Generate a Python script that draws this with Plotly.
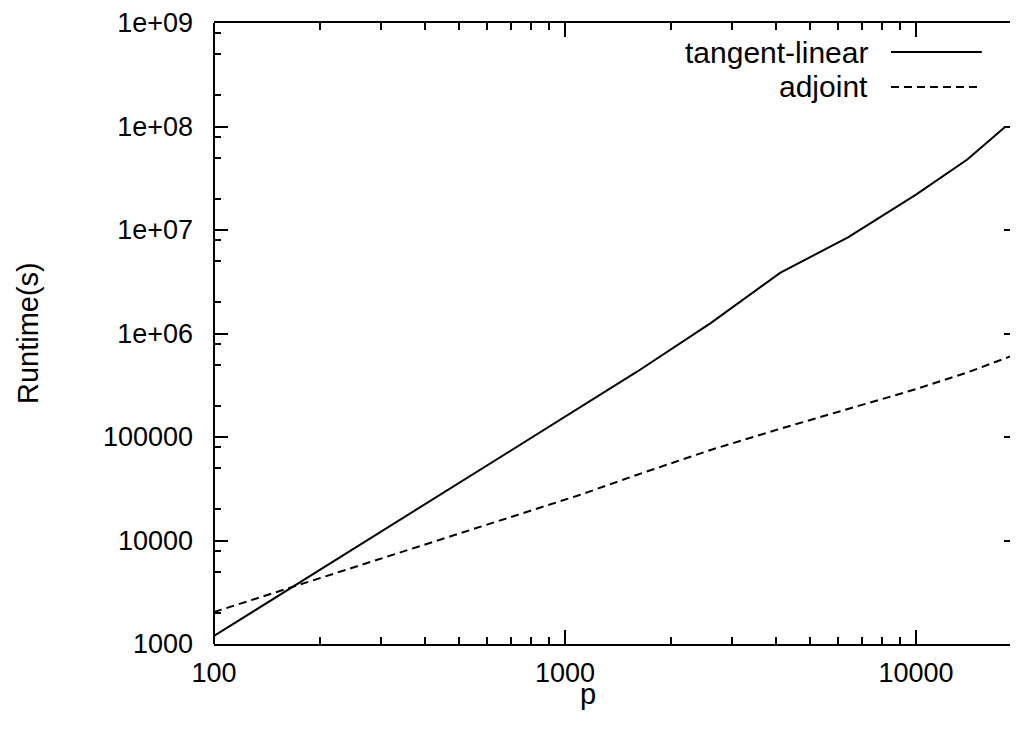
import plotly.graph_objects as go

# ---- data ----
p_tangent = [100, 1100, 1600, 2600, 4100, 6400, 10000, 14000, 18000]
runtime_tangent = [1195, 1.95e5, 4.25e5, 1.26e6, 3.85e6, 8.5e6, 2.2e7, 4.8e7, 1.0e8]

p_adjoint = [100, 1100, 1600, 2600, 4100, 6400, 10000, 14000, 20000]
runtime_adjoint = [2035, 2.75e4, 4.3e4, 7.5e4, 1.2e5, 1.85e5, 2.9e5, 4.2e5, 6.6e5]

x_tickvals = [100, 1000, 10000]
x_ticktext = ["100", "1000", "10000"]
y_tickvals = [1e3, 1e4, 1e5, 1e6, 1e7, 1e8, 1e9]
y_ticktext = ["1000", "10000", "100000", "1e+06", "1e+07", "1e+08", "1e+09"]

x_minor = [m * 10 ** d for d in (2, 3, 4) for m in range(2, 10)]
y_minor = [m * 10 ** d for d in range(3, 9) for m in (2, 5, 8)]

series_names = ["tangent-linear", "adjoint"]

FONT = "Liberation Sans, Arial, Helvetica, sans-serif"
TICK_SIZE = 27
TEXT_SIZE = 29
LEGEND_SIZE = 30

fig = go.Figure()
fig.add_trace(go.Scatter(x=p_tangent, y=runtime_tangent, mode="lines",
                         name=series_names[0],
                         line=dict(color="black", width=2)))
fig.add_trace(go.Scatter(x=p_adjoint, y=runtime_adjoint, mode="lines",
                         name=series_names[1],
                         line=dict(color="black", width=2, dash="8px,5px")))

# page body has an 8px margin, so the figure is drawn 8px right/down
fig.update_layout(
    width=1010, height=739,
    margin=dict(l=206, r=0, t=15, b=103),
    paper_bgcolor="white", plot_bgcolor="white",
    showlegend=False,
    font=dict(family=FONT, size=TICK_SIZE, color="black"),
)

fig.update_xaxes(
    type="log", range=[2, 4.2906],
    showgrid=False, zeroline=False,
    showline=True, linecolor="black", linewidth=2, mirror="ticks",
    ticks="inside", ticklen=14, tickwidth=2, tickcolor="black",
    tickmode="array", tickvals=x_tickvals, ticktext=x_ticktext,
    ticklabelstandoff=4,
    tickfont=dict(family=FONT, size=TICK_SIZE, color="black"),
    minor=dict(tickmode="array", tickvals=x_minor, ticks="inside",
               ticklen=7, tickwidth=2, tickcolor="black", showgrid=False),
)
fig.update_yaxes(
    type="log", range=[3, 9],
    showgrid=False, zeroline=False,
    showline=False, mirror="ticks",
    ticks="inside", ticklen=14, tickwidth=2, tickcolor="black",
    tickmode="array", tickvals=y_tickvals, ticktext=y_ticktext,
    ticklabelstandoff=20,
    tickfont=dict(family=FONT, size=TICK_SIZE, color="black"),
    minor=dict(tickmode="array", tickvals=y_minor, ticks="inside",
               ticklen=7, tickwidth=2, tickcolor="black", showgrid=False),
)

# left frame line
fig.add_shape(type="line", xref="paper", yref="paper", x0=0, x1=0, y0=0, y1=1,
              line=dict(color="black", width=2))

# axis titles
fig.add_annotation(text="Runtime(s)", xref="paper", yref="paper",
                   x=-0.2313, y=0.5008, textangle=-90, showarrow=False,
                   xanchor="center", yanchor="middle",
                   font=dict(family=FONT, size=TEXT_SIZE, color="black"))
fig.add_annotation(text="p", xref="paper", yref="paper",
                   x=0.465, y=-0.0805, showarrow=False,
                   xanchor="center", yanchor="middle",
                   font=dict(family=FONT, size=TEXT_SIZE, color="black"))

# custom legend (text right-aligned, sample to the right)
legend_y = [0.9533, 0.897]
legend_dash = ["solid", "8px,5px"]
for name, ly, dsh in zip(series_names, legend_y, legend_dash):
    fig.add_annotation(text=name, xref="paper", yref="paper",
                       x=0.8159, y=ly, showarrow=False,
                       xanchor="right", yanchor="middle",
                       font=dict(family=FONT, size=LEGEND_SIZE, color="black"))
    fig.add_shape(type="line", xref="paper", yref="paper",
                  x0=0.842, x1=0.955, y0=ly, y1=ly,
                  line=dict(color="black", width=2, dash=dsh))

fig.write_html("out.html")
